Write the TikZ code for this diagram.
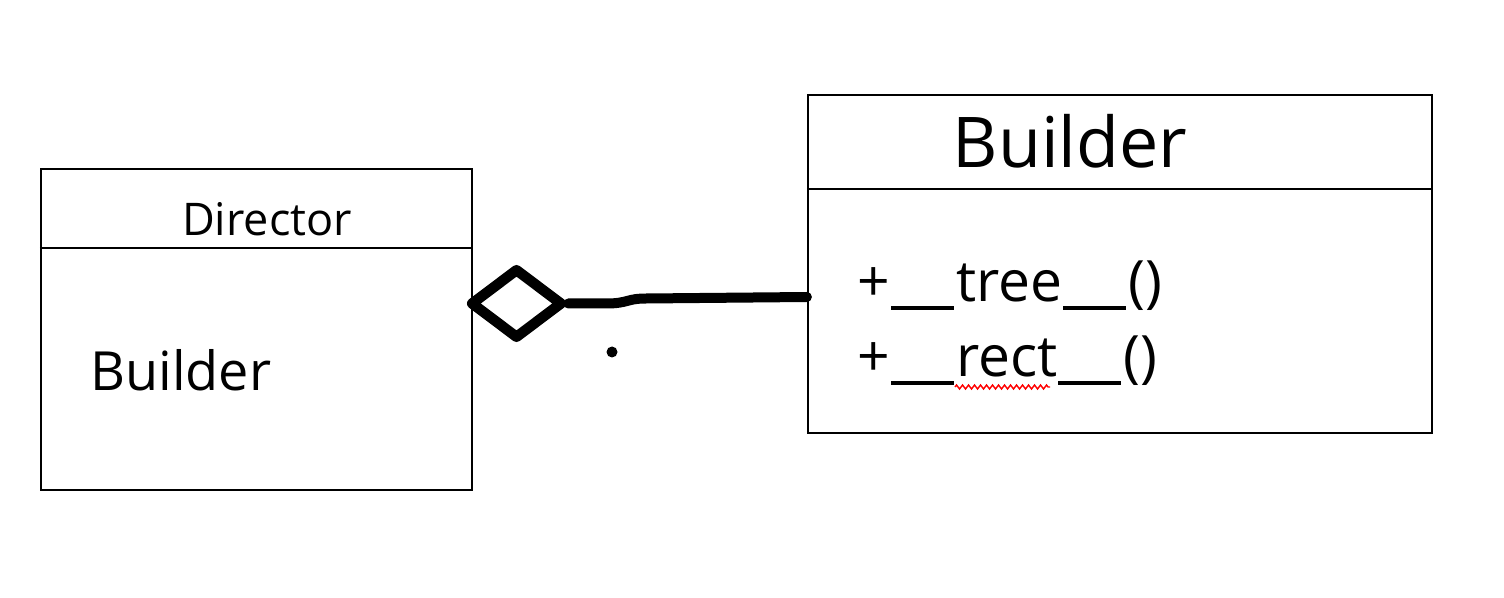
\documentclass[tikz,border=0pt]{standalone}
\usepackage{fontspec}
\setmainfont{Open Sans}
\usetikzlibrary{shapes.geometric,decorations.pathmorphing}
\newcommand{\dblusc}{\kern0.5pt\rule[-3.9pt]{31.5pt}{1.9pt}\kern1pt}
\tikzset{
  classbox/.style={draw, line width=1.1pt, rectangle, inner sep=0pt},
  divider/.style={line width=1.1pt},
  agg/.style={draw, shape=diamond, line width=5.2pt, line join=round, inner sep=0pt,
              minimum width=46.5pt, minimum height=35.5pt},
  assoc/.style={line width=5pt, line cap=round, line join=round},
  txt/.style={inner sep=0pt, anchor=base west},
  squiggle/.style={draw=red, line width=0.7pt, decorate,
                   decoration={zigzag, segment length=3pt, amplitude=1pt}}
}
\begin{document}
\begin{tikzpicture}[x=0.5pt, y=-0.5pt]
  \useasboundingbox (0,0) rectangle (1504,598);
  % Director class
  \node[classbox, minimum width=215.5pt, minimum height=160.5pt] (dir) at (256.5,329.5) {};
  \draw[divider] ([yshift=-40pt]dir.north west) -- ([yshift=-40pt]dir.north east);
  \node[txt, anchor=base, font=\fontsize{22.5pt}{27pt}\selectfont] (dirname) at (267,236) {Director};
  \node[txt, font=\fontsize{27pt}{32pt}\selectfont] (dirattr) at (90,391) {Builder};
  % Builder class
  \node[classbox, minimum width=312pt, minimum height=169pt] (bld) at (1120,264) {};
  \draw[divider] ([yshift=-47.5pt]bld.north west) -- ([yshift=-47.5pt]bld.north east);
  \node[txt, anchor=base, font=\fontsize{35pt}{40pt}\selectfont] (bldname) at (1070,168) {Builder};
  \node[txt, font=\fontsize{28.5pt}{33pt}\selectfont] (m1) at (857,302) {+\dblusc tree\dblusc()};
  \node[txt, font=\fontsize{28.5pt}{33pt}\selectfont] (m2) at (857,377) {+\dblusc rect\dblusc()};
  \draw[squiggle] (955,387) -- (1050,387);
  % aggregation
  \node[agg] (dia) at (516.5,303.5) {};
  \draw[assoc] (dia.east) -- ++(38,0) .. controls ++(22,0) and ++(-20,0) .. ++(40,-5)
        -- ([yshift=-16.5pt]bld.west);
  \node[circle, fill, inner sep=0pt, minimum size=5.5pt] (dot) at (612,352) {};
\end{tikzpicture}
\end{document}
